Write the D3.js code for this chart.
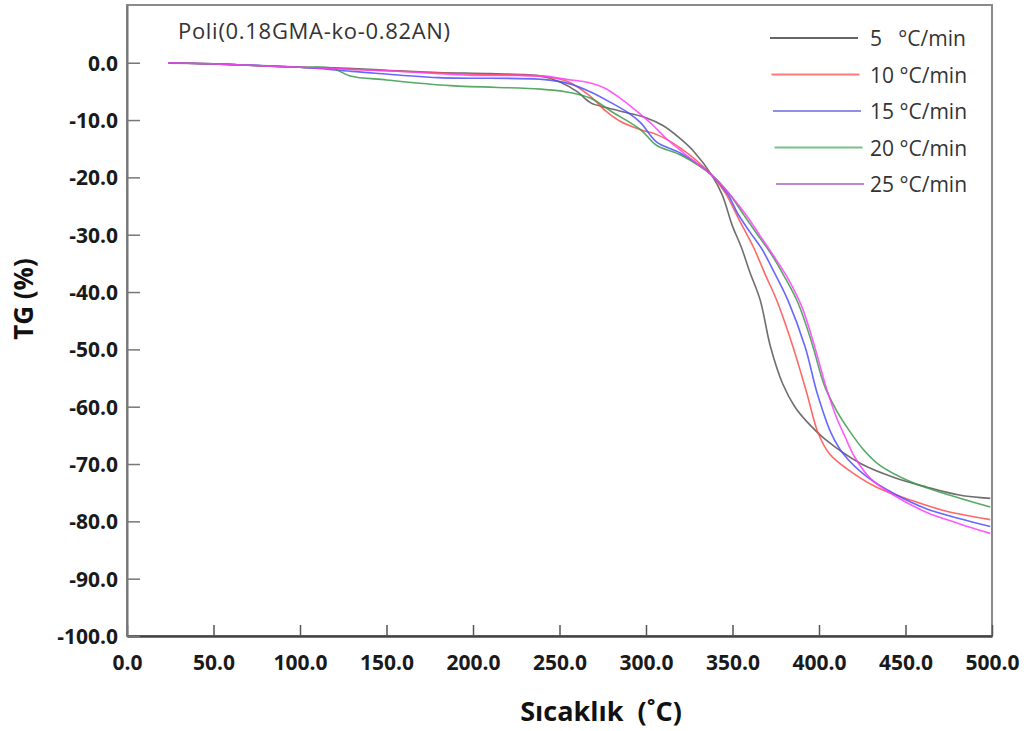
<!DOCTYPE html>
<html>
<head>
<meta charset="utf-8">
<script src="https://cdn.jsdelivr.net/npm/d3@7/dist/d3.min.js"></script>
<style>
  html, body { margin: 0; padding: 0; background: #fff; }
  svg { display: block; font-family: "Open Sans", "Noto Sans", sans-serif; }
  text { white-space: pre; }
</style>
</head>
<body>
<svg id="chart" width="1027" height="731"></svg>
<script>
// TG curves of Poli(0.18GMA-ko-0.82AN) at five heating rates: [temperature °C, TG %]
const rate5 = [[24,-0.1],[50,-0.2],[75,-0.5],[100,-0.8],[120,-0.9],[150,-1.3],[180,-1.7],[210,-1.9],[239,-2.3],[250,-3.3],[260,-5.0],[268,-7.0],[277,-7.8],[290,-8.8],[300,-9.6],[310,-11.0],[320,-13.3],[328,-15.6],[338,-19.6],[344,-23.0],[350,-28.5],[355,-32.1],[360,-36.5],[366,-41.4],[372,-49.6],[379,-56.0],[386,-60.0],[393,-62.6],[404,-65.8],[424,-69.9],[443,-72.3],[462,-74.0],[481,-75.4],[499,-76.0]];
const rate10 = [[24,0],[50,-0.2],[100,-0.8],[150,-1.4],[200,-2.0],[240,-2.4],[255,-3.3],[268,-5.9],[277,-8.5],[285,-10.2],[297,-11.7],[306,-12.5],[320,-14.9],[338,-19.6],[346,-22.8],[354,-27.5],[362,-32.1],[369,-37.0],[375.5,-41.4],[385,-49.6],[393,-57.7],[399.5,-64.6],[406,-68.2],[416,-70.8],[433,-74.0],[453,-76.3],[472,-78.1],[499,-79.7]];
const rate15 = [[24,0],[50,-0.2],[100,-0.8],[130,-1.5],[180,-2.6],[240,-2.9],[255,-3.6],[268,-5.1],[280,-7.0],[290,-8.8],[297,-10.5],[306,-13.8],[320,-15.8],[338,-19.6],[347,-22.8],[353,-26.3],[360,-29.5],[367,-32.5],[374,-36.5],[382,-41.4],[392,-49.6],[399,-57.7],[407,-64.6],[414,-68.2],[428,-72.3],[443,-75.1],[462,-77.8],[481,-79.5],[499,-80.9]];
const rate20 = [[24,0],[50,-0.2],[100,-0.8],[118,-0.9],[129,-2.3],[150,-3.0],[187,-4.0],[239,-4.6],[254,-5.1],[268,-6.2],[280,-8.5],[297,-11.7],[306,-14.4],[320,-16.1],[338,-19.6],[348,-22.8],[356,-26.3],[364,-29.8],[372,-33.2],[380,-37.3],[388,-42.0],[396,-49.0],[403,-56.2],[410,-60.6],[418,-64.4],[426,-67.6],[435,-70.2],[453,-73.1],[472,-75.1],[499,-77.5]];
const rate25 = [[24,0],[50,-0.2],[100,-0.8],[150,-1.4],[200,-2.2],[240,-2.3],[254,-2.9],[266,-3.4],[276,-4.4],[286,-6.4],[296,-8.8],[304,-10.9],[312,-13.3],[322,-15.8],[338,-19.6],[348,-22.8],[358,-26.6],[366,-30.2],[374,-33.8],[382,-37.6],[390,-42.5],[397,-49.0],[404,-56.5],[410,-61.8],[415,-65.2],[421,-69.0],[430,-72.6],[443,-75.4],[462,-78.4],[481,-80.4],[499,-82.1]];

const seriesNames = ["5   °C/min", "10 °C/min", "15 °C/min", "20 °C/min", "25 °C/min"];
const seriesData = [rate5, rate10, rate15, rate20, rate25];
const lineColors = ["#555555", "#ff4d4d", "#4d4dff", "#3a9a4a", "#ff3cff"];
const legendColors = ["#666666", "#ff7b7b", "#8f8fe8", "#74c486", "#c084d8"];

const xTicks = [0, 50, 100, 150, 200, 250, 300, 350, 400, 450, 500];
const yTicks = [0, -10, -20, -30, -40, -50, -60, -70, -80, -90, -100];

const titleText = "Poli(0.18GMA-ko-0.82AN)";
const xTitle = "Sıcaklık  (˚C)";
const yTitle = "TG (%)";

const svg = d3.select("#chart");
const plotLeft = 127, plotRight = 992, plotTop = 5, plotBottom = 636;

const x = d3.scaleLinear().domain([0, 500]).range([plotLeft, plotRight]);
const y = d3.scaleLinear().domain([-100, 10.07]).range([plotBottom, plotTop]);

// one decimal, plain hyphen for negatives
const fmt = d => d.toFixed(1);

// frame
svg.append("rect")
  .attr("x", plotLeft).attr("y", plotTop)
  .attr("width", plotRight - plotLeft).attr("height", plotBottom - plotTop)
  .attr("fill", "none").attr("stroke", "#8a8a8a").attr("stroke-width", 2);

// curves
const line = d3.line()
  .x(d => x(d[0])).y(d => y(d[1]))
  .curve(d3.curveCatmullRom.alpha(0.5));

seriesData.forEach((s, i) => {
  svg.append("path")
    .datum(s)
    .attr("d", line)
    .attr("fill", "none")
    .attr("stroke", lineColors[i])
    .attr("stroke-width", 1.6)
    .attr("stroke-opacity", 0.85);
});

// x axis (ticks point inward)
const xAxis = svg.append("g")
  .attr("transform", `translate(0,${plotBottom})`)
  .call(d3.axisBottom(x).tickValues(xTicks).tickSizeInner(-11).tickSizeOuter(0).tickFormat(fmt));
xAxis.select(".domain").attr("stroke", "#444").attr("stroke-width", 2.5);
xAxis.selectAll(".tick line").attr("stroke", "#555").attr("stroke-width", 1.5);
xAxis.selectAll(".tick text")
  .attr("y", 34).attr("dy", 0)
  .attr("fill", "#1a1a1a")
  .style("font-size", "21px").style("font-weight", "bold")
  .style("font-family", "'Open Sans', sans-serif");

// y axis (ticks point inward)
const yAxis = svg.append("g")
  .attr("transform", `translate(${plotLeft},0)`)
  .call(d3.axisLeft(y).tickValues(yTicks).tickSizeInner(-13).tickSizeOuter(0).tickFormat(fmt));
yAxis.select(".domain").attr("stroke", "#777").attr("stroke-width", 2);
yAxis.selectAll(".tick line").attr("stroke", "#777").attr("stroke-width", 1.5);
yAxis.selectAll(".tick text")
  .attr("x", -9).attr("dy", "0.36em")
  .attr("fill", "#1a1a1a")
  .style("font-size", "21px").style("font-weight", "bold")
  .style("font-family", "'Open Sans', sans-serif");

// plot title inside frame
svg.append("text")
  .attr("x", 178).attr("y", 39)
  .attr("fill", "#333")
  .style("font-size", "22px")
  .style("letter-spacing", "0.7px")
  .text(titleText);

// legend
const legend = svg.append("g");
seriesNames.forEach((name, i) => {
  const ly = 38 + i * 36.5;
  legend.append("line")
    .attr("x1", 770 + i * 1.5).attr("x2", 858 + i * 1.5)
    .attr("y1", ly).attr("y2", ly)
    .attr("stroke", legendColors[i]).attr("stroke-width", 2);
  legend.append("text")
    .attr("x", 870).attr("y", ly + 8)
    .attr("fill", "#333")
    .style("font-size", "21px")
    .text(name);
});

// axis titles
svg.append("text")
  .attr("x", 601).attr("y", 721)
  .attr("text-anchor", "middle")
  .attr("fill", "#111")
  .style("font-size", "27px").style("font-weight", "bold")
  .text(xTitle);

svg.append("text")
  .attr("transform", "translate(33,299) rotate(-90)")
  .attr("text-anchor", "middle")
  .attr("fill", "#111")
  .style("font-size", "26px").style("font-weight", "bold")
  .text(yTitle);
</script>
</body>
</html>
